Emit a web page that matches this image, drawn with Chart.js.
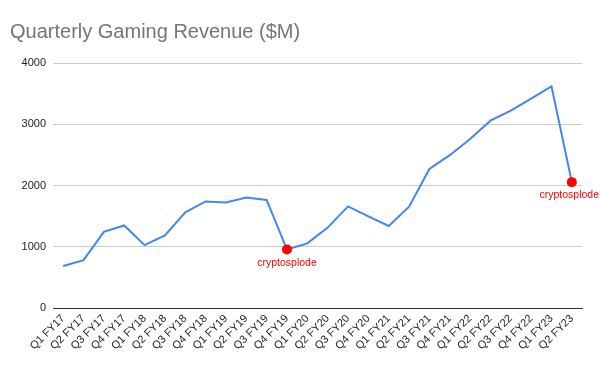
<!DOCTYPE html>
<html>
<head>
<meta charset="utf-8">
<script src="https://cdn.jsdelivr.net/npm/chart.js@4"></script>
<style>
  html, body { margin: 0; padding: 0; background: #fff; }
  #wrap { width: 600px; height: 371px; }
</style>
</head>
<body>
<div id="wrap"><canvas id="revenueChart" width="600" height="371"></canvas></div>
<script>
// quarters, Q1 FY17 .. Q2 FY23
const quarters = [
  'Q1 FY17', 'Q2 FY17', 'Q3 FY17', 'Q4 FY17',
  'Q1 FY18', 'Q2 FY18', 'Q3 FY18', 'Q4 FY18',
  'Q1 FY19', 'Q2 FY19', 'Q3 FY19', 'Q4 FY19',
  'Q1 FY20', 'Q2 FY20', 'Q3 FY20', 'Q4 FY20',
  'Q1 FY21', 'Q2 FY21', 'Q3 FY21', 'Q4 FY21',
  'Q1 FY22', 'Q2 FY22', 'Q3 FY22', 'Q4 FY22',
  'Q1 FY23', 'Q2 FY23'
];
const gamingRevenue = [
  687, 781, 1244, 1348,
  1027, 1186, 1562, 1739,
  1723, 1805, 1764, 954,
  1055, 1313, 1659, 1495,
  1339, 1654, 2271, 2495,
  2760, 3059, 3221, 3420,
  3620, 2055
];
// per-point callouts ('' = none)
const callouts = [
  '', '', '', '', '', '', '', '', '', '', '', 'cryptosplode',
  '', '', '', '', '', '', '', '', '', '', '', '', '', 'cryptosplode'
];
const yTicks = [0, 1000, 2000, 3000, 4000];

const calloutPlugin = {
  id: 'callouts',
  afterDatasetsDraw(chart) {
    const ctx = chart.ctx;
    const meta = chart.getDatasetMeta(0);
    ctx.save();
    ctx.font = '10.5px "Liberation Sans", Arial, sans-serif';
    ctx.fillStyle = '#ff0000';
    ctx.textAlign = 'left';
    ctx.textBaseline = 'top';
    callouts.forEach((txt, i) => {
      if (!txt) return;
      const pt = meta.data[i];
      const w = ctx.measureText(txt).width;
      let x = pt.x - w / 2;
      if (x + w > chart.width - 1) x = chart.width - 1 - w;
      ctx.fillText(txt, x, pt.y + 8);
    });
    ctx.restore();
  }
};

const ctx = document.getElementById('revenueChart').getContext('2d');
const chart = new Chart(ctx, {
  type: 'line',
  data: {
    labels: quarters,
    datasets: [{
      label: 'Gaming Revenue',
      data: gamingRevenue,
      borderColor: '#4285f4',
      borderWidth: 2,
      tension: 0,
      fill: false,
      pointRadius: callouts.map(c => c ? 5 : 0),
      pointHoverRadius: callouts.map(c => c ? 5 : 0),
      pointBackgroundColor: '#ff0000',
      pointBorderColor: '#ff0000',
      pointBorderWidth: 0
    }]
  },
  options: {
    responsive: false,
    animation: false,
    layout: { padding: { left: 10, right: 18, top: 0, bottom: 0 } },
    plugins: {
      legend: { display: false },
      tooltip: { enabled: false },
      title: {
        display: true,
        text: 'Quarterly Gaming Revenue ($M)',
        align: 'start',
        color: '#757575',
        font: { family: '"Liberation Sans", Arial, sans-serif', size: 20, weight: 'normal' },
        padding: { top: 20, bottom: 19 }
      }
    },
    scales: {
      x: {
        offset: true,
        grid: { display: false, drawTicks: false },
        border: { color: '#333333', width: 1 },
        ticks: {
          color: '#222222',
          font: { family: '"Liberation Sans", Arial, sans-serif', size: 11 },
          minRotation: 45,
          maxRotation: 45,
          autoSkip: false,
          padding: 4
        },
        afterFit(scale) { scale.height = 63; }
      },
      y: {
        min: 0,
        max: 4000,
        afterBuildTicks(scale) { scale.ticks = yTicks.map(v => ({ value: v })); },
        grid: { color: '#cccccc', drawTicks: false },
        border: { display: false },
        ticks: {
          color: '#222222',
          font: { family: '"Liberation Sans", Arial, sans-serif', size: 11 },
          padding: 7,
          callback: v => String(v)
        },
        afterFit(scale) { scale.width = 43; }
      }
    }
  },
  plugins: [calloutPlugin]
});
</script>
</body>
</html>
